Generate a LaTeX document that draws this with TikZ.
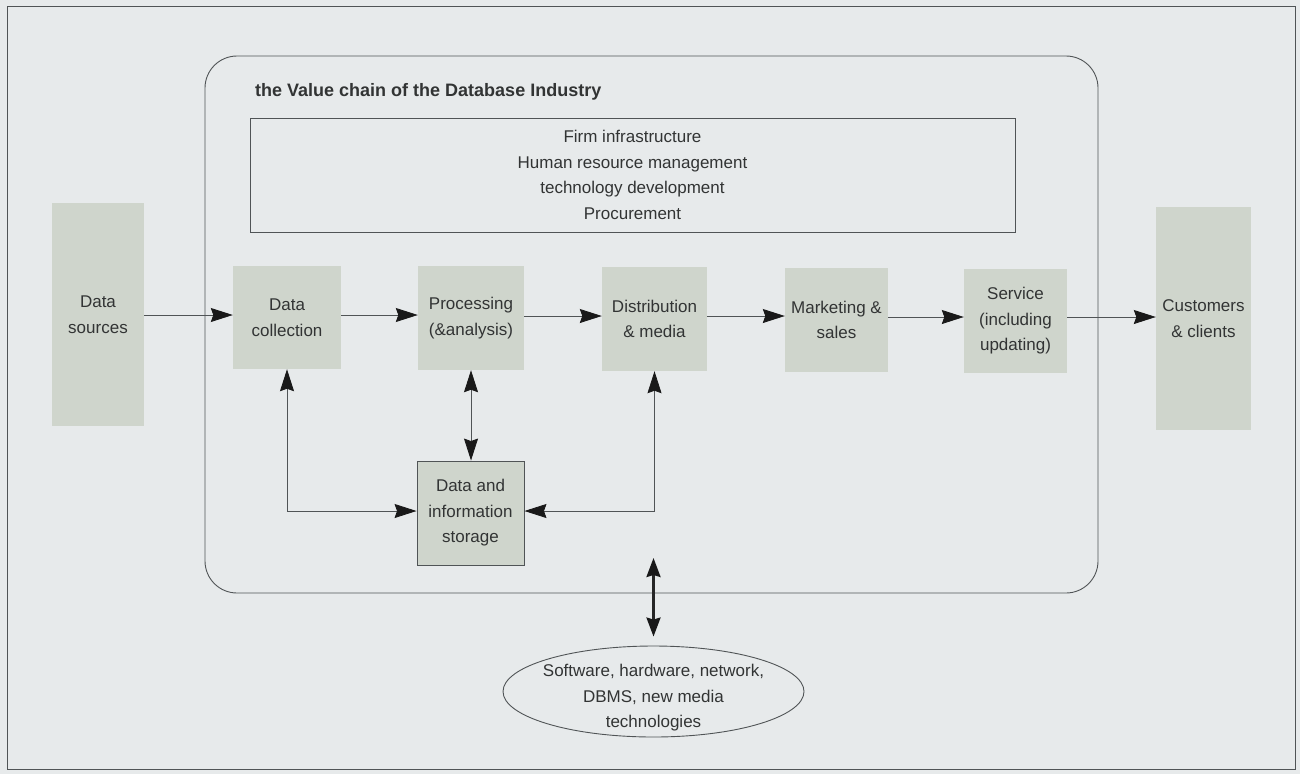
\documentclass[tikz,border=0pt]{standalone}
\usepackage{fontspec}
\setmainfont{Liberation Sans}
\usetikzlibrary{arrows.meta,shapes.geometric}
\definecolor{bgc}{RGB}{231,234,235}
\definecolor{boxc}{RGB}{207,213,204}
\definecolor{linec}{RGB}{80,84,86}
\definecolor{txtc}{RGB}{50,52,52}
\tikzset{
  tip/.tip={Stealth[length=22pt,width=14pt,inset=2.5pt,color=black!90]},
  bigtip/.tip={Stealth[length=19pt,width=14pt,inset=2pt,color=black!90]}
}
\begin{document}
\begin{tikzpicture}[x=1pt,y=-1pt,
  every node/.style={font=\fontsize{17}{25.5}\selectfont, text=txtc, align=center, inner sep=0pt},
  gbox/.style={fill=boxc, minimum width=#1},
  flow/.style={draw=linec, line width=0.8pt, -tip},
  biflow/.style={draw=linec, line width=0.8pt, tip-tip},
  thickflow/.style={draw=black!85, line width=2.4pt, bigtip-bigtip}
]
\useasboundingbox (0,0) rectangle (1300,774);
\fill[bgc] (0,0) rectangle (1300,774);
\draw[linec, line width=1pt] (7,6) rectangle (1295,769);
\draw[linec, line width=0.9pt, rounded corners=32pt] (205,56) rectangle (1098,593);
\node[anchor=west, font=\fontsize{18}{20}\selectfont\bfseries] (title) at (255,92) {the Value chain of the Database Industry};
\node[draw=linec, line width=0.9pt, minimum width=765pt, minimum height=114pt] (supp) at (632.5,175)
  {Firm infrastructure\\Human resource management\\technology development\\Procurement};

\node[gbox=92pt, minimum height=223pt] (src) at (98,314.5) {Data\\sources};
\node[gbox=108pt, minimum height=103pt] (coll) at (287,317.5) {Data\\collection};
\node[gbox=106pt, minimum height=104pt] (proc) at (471,318) {Processing\\(\&analysis)};
\node[gbox=105pt, minimum height=104pt] (dist) at (654.5,319) {Distribution\\\& media};
\node[gbox=103pt, minimum height=104pt] (mkt) at (836.5,320) {Marketing \&\\sales};
\node[gbox=103pt, minimum height=104pt] (serv) at (1015.5,321) {Service\\(including\\updating)};
\node[gbox=95pt, minimum height=223pt] (cust) at (1203.5,318.5) {Customers\\\& clients};
\node[gbox=107pt, minimum height=104pt, draw=linec, line width=0.9pt] (stor) at (470.5,513) {Data and\\information\\storage};

\node[ellipse, draw=linec, line width=0.9pt, minimum width=301pt, minimum height=91pt] (tech) at (653.5,691.5) {};
\node (techtxt) at (653.5,698) {Software, hardware, network,\\DBMS, new media\\technologies};
\coordinate (ttop) at (653.5,558);

\draw[flow] (src.east |- 0,315) -- (coll.west |- 0,315);
\draw[flow] (coll.east |- 0,315) -- (proc.west |- 0,315);
\draw[flow] (proc.east |- 0,316) -- (dist.west |- 0,316);
\draw[flow] (dist.east |- 0,316) -- (mkt.west |- 0,316);
\draw[flow] (mkt.east |- 0,317) -- (serv.west |- 0,317);
\draw[flow] (serv.east |- 0,317) -- (cust.west |- 0,317);

\draw[biflow] (coll.south) |- (stor.west |- 0,511);
\draw[biflow] (proc.south) -- (stor.north -| proc.south);
\draw[biflow] (dist.south) |- (stor.east |- 0,511);
\draw[thickflow, shorten >=9pt] (ttop) -- (tech.north);
\end{tikzpicture}
\end{document}
